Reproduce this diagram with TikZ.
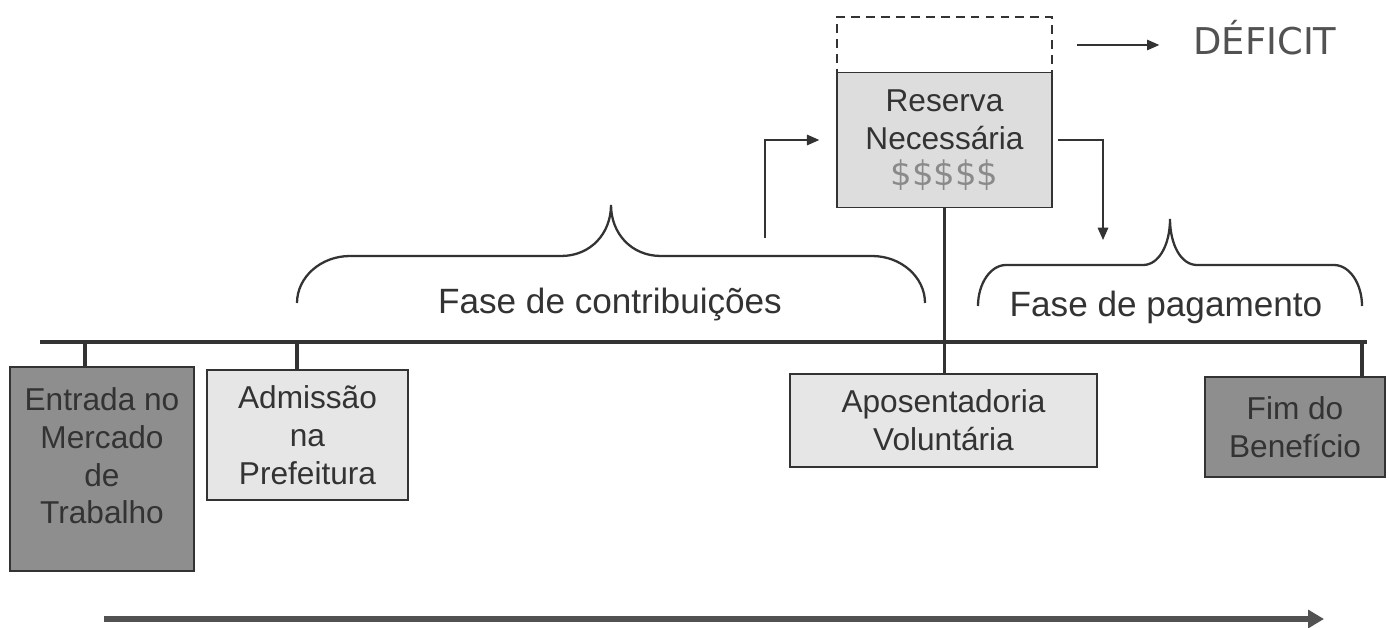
\documentclass[tikz,border=0pt]{standalone}
\usepackage{fontspec}
\setmainfont{Liberation Sans}
\newfontfamily\verdana{DejaVu Sans}
\usetikzlibrary{positioning, arrows.meta}
\definecolor{tinta}{HTML}{333333}
\definecolor{cinzaesc}{HTML}{8E8E8E}
\definecolor{cinzacla}{HTML}{E6E6E6}
\definecolor{cinzares}{HTML}{DDDDDD}
\definecolor{cifrao}{HTML}{8A8A8A}
\newcommand{\chave}[8]{%
  \draw[chave] (#1,#3) .. controls (#1,{#4+0.45*(#3-#4)}) and ({#1+0.45*#7},#4) .. ({#1+#7},#4)
    -- ({#5-#8},#4) .. controls ({#5-0.4*#8},#4) and (#5,{#4-0.45*(#4-#6)}) .. (#5,#6)
    .. controls (#5,{#4-0.45*(#4-#6)}) and ({#5+0.4*#8},#4) .. ({#5+#8},#4)
    -- ({#2-#7},#4) .. controls ({#2-0.45*#7},#4) and (#2,{#4+0.45*(#3-#4)}) .. (#2,#3);}

\begin{document}
\begin{tikzpicture}[x=0.02cm, y=-0.02cm,
    caixa/.style={draw=tinta, line width=0.85pt, text=tinta, align=center, inner sep=0pt,
      font=\fontsize{18}{21.5}\selectfont},
    escura/.style={caixa, fill=cinzaesc},
    clara/.style={caixa, fill=cinzacla},
    seta/.style={draw=tinta, line width=0.8pt, -{Triangle[length=7pt, width=6pt]}},
    linha/.style={draw=tinta, line width=2.8pt},
    haste/.style={draw=tinta, line width=2.2pt},
    chave/.style={draw=tinta, line width=1.3pt},
    fase/.style={text=tinta, anchor=base, font=\fontsize{20}{24}\selectfont},
    tempo/.style={draw=black!68, line width=3.4pt, -{Triangle[length=9pt, width=10pt]}}]
  \useasboundingbox (0,0) rectangle (1389,628);

  \node[escura, minimum width=3.68cm, minimum height=4.08cm] (entrada) at (102,469)
    {Entrada no\\Mercado\\de\\Trabalho\\[-6.5pt]\mbox{}};
  \node[clara, minimum width=4.02cm, minimum height=2.6cm] (admissao) at (307.5,435)
    {Admiss\~ao\\na\\Prefeitura};
  \node[clara, minimum width=6.14cm, minimum height=1.86cm] (aposent) at (943.5,420.5)
    {Aposentadoria\\Volunt\'aria};
  \node[escura, minimum width=3.6cm, minimum height=2cm] (fim) at (1295,427)
    {Fim do\\Benef\'icio};

  \node[draw=tinta, dash pattern=on 5pt off 3.5pt, line width=1.4pt,
    minimum width=4.3cm, minimum height=1.12cm] (falta) at (944.5,45) {};
  \node[caixa, fill=cinzares, minimum width=4.3cm, minimum height=2.7cm] (reserva) at (944.5,140)
    {Reserva\\Necess\'aria\\[-1pt]{\verdana\fontsize{19.3}{22}\selectfont\color{cifrao}\$\$\$\$\$}};
  \node[text=black!68, font=\verdana\fontsize{21}{24}\selectfont] (deficit) at (1265,38) {D\'EFICIT};

  \coordinate (inicio) at (40,342);
  \coordinate (termino) at (1367,342);
  \coordinate (mA) at (85,342);
  \coordinate (mB) at (297,342);
  \coordinate (mD) at (1362,342);
  \draw[linha] (inicio) -- (termino);
  \draw[haste] (mA) -- (mA |- entrada.north);
  \draw[haste] (mB) -- (mB |- admissao.north);
  \draw[haste] (reserva.south) -- (reserva.south |- aposent.north);
  \draw[haste] (mD) -- (mD |- fim.north);

  \chave{297}{925}{303}{256}{611}{205}{53}{50}
  \chave{978}{1362}{306}{265}{1170}{219}{28}{27}
  \node[fase] (contrib) at (610,313) {Fase de contribui\c{c}\~oes};
  \node[fase] (pagam) at (1166,316) {Fase de pagamento};

  \coordinate (acumula) at (765,238);
  \coordinate (paga) at (1103,240);
  \draw[seta, shorten >=0.34cm] (acumula) |- (reserva.west);
  \draw[seta, shorten <=0.1cm] (reserva.east) -| (paga);
  \draw[seta, shorten <=0.48cm, shorten >=0.56cm] (falta.east) -- (falta.east -| deficit.west);

  \coordinate (tempoIni) at (104,619);
  \coordinate (tempoFim) at (1324,619);
  \draw[tempo] (tempoIni) -- (tempoFim);
\end{tikzpicture}
\end{document}
